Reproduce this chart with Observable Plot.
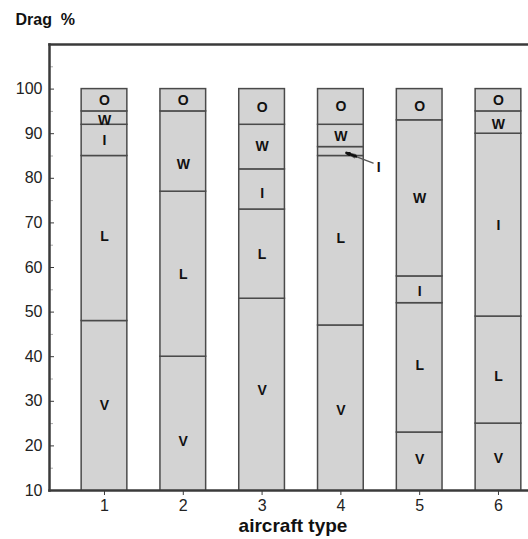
<!DOCTYPE html>
<html><head><meta charset="utf-8">
<script src="https://cdn.jsdelivr.net/npm/d3@7"></script>
<script src="https://cdn.jsdelivr.net/npm/@observablehq/plot@0.6"></script>
<style>body{margin:0;background:#fff;} svg{display:block}</style>
</head><body><div id="chart"></div>
<script>
// Aircraft types (x categories)
const types = [1, 2, 3, 4, 5, 6];
const components = ["V", "L", "I", "W", "O"];
// Segment sizes (% of drag), stacked bottom to top
const V = [48, 40, 53, 47, 23, 25];
const L = [37, 37, 20, 38, 29, 24];
const I = [7, 0, 9, 2, 6, 41];
const W = [3, 18, 10, 5, 35, 5];
const O = [5, 5, 8, 8, 7, 5];
// Label positions (value units) for each segment letter; null = not labelled inside
const labV = [29, 21, 32.5, 28, 17, 17.2];
const labL = [67, 58.5, 63, 66.6, 38, 35.5];
const labI = [88.5, null, 76.6, null, 54.6, 69.5];
const labW = [93, 83, 87.1, 89.3, 75.4, 92];
const labO = [97.5, 97.5, 95.8, 96.2, 96.2, 97.5];
// Callout for the thin I segment of aircraft 4
const calloutLabel = ["I"];
const calloutPos = [[4.48, 82.4]];
const calloutArrow = [[4.41, 83.4, 4.07, 85.7]];
// Axis ticks
const yTicks = [10, 20, 30, 40, 50, 60, 70, 80, 90, 100];
const yMinor = [15, 25, 35, 45, 55, 65, 75, 85, 95, 105];
const xTicks = [1, 2, 3, 4, 5, 6];
const titleText = "Drag\u00a0\u00a0%";
const xLabel = "aircraft type";

const sizes = {V, L, I, W, O};
const labs = {V: labV, L: labL, I: labI, W: labW, O: labO};
const rows = [];
types.forEach((t, i) => {
  let base = 0;
  components.forEach(c => {
    const v = sizes[c][i];
    if (v > 0) rows.push({type: t, comp: c, y1: base, y2: base + v, labelY: labs[c][i]});
    base += v;
  });
});
const half = 0.29;
const dark = "#3a3a3a";

const chart = Plot.plot({
  width: 528, height: 539,
  marginTop: 44, marginLeft: 49, marginRight: 0, marginBottom: 49,
  style: {fontFamily: "'Liberation Sans', Arial, Helvetica, sans-serif", background: "#fff", color: "#222"},
  x: {type: "linear", domain: [0.302, 6.381]},
  y: {domain: [10, 110]},
  marks: [
    Plot.rect(rows, {x1: d => d.type - half, x2: d => d.type + half, y1: "y1", y2: "y2",
      fill: "#d3d3d3", stroke: "#4a4a4a", strokeWidth: 1.5, clip: true}),
    Plot.text(rows.filter(d => d.labelY != null), {x: "type", y: "labelY", text: "comp",
      fontWeight: "bold", fontSize: 14, fill: "#111"}),
    Plot.arrow(calloutArrow, {x1: d => d[0], y1: d => d[1], x2: d => d[2], y2: d => d[3],
      stroke: "#555", strokeWidth: 1.2, headLength: 12, headAngle: 20}),
    Plot.arrow(calloutArrow, {x1: d => d[2] + 0.12, y1: d => d[3] - 0.8, x2: d => d[2], y2: d => d[3],
      stroke: "#111", strokeWidth: 2.5, headLength: 8, headAngle: 25}),
    Plot.text(calloutLabel, {x: (d, i) => calloutPos[i][0], y: (d, i) => calloutPos[i][1], text: d => d,
      fontWeight: "bold", fontSize: 14, fill: "#111"}),
    Plot.axisY({ticks: yTicks, tickSize: -5, tickPadding: 12, fontSize: 16, tickFormat: d => d, label: null, stroke: dark}),
    Plot.axisY({ticks: yMinor, tickSize: -4, text: null, label: null, stroke: "#aaa"}),
    Plot.axisX({ticks: xTicks, tickSize: 5, tickPadding: 4, fontSize: 16, tickFormat: d => d, label: null, stroke: dark}),
    Plot.frame({anchor: "top", stroke: dark, strokeWidth: 2.5}),
    Plot.frame({anchor: "left", stroke: dark, strokeWidth: 2.5}),
    Plot.frame({anchor: "bottom", stroke: dark, strokeWidth: 2.5}),
    Plot.text([xLabel], {frameAnchor: "bottom", dx: 4, dy: 41, lineAnchor: "bottom",
      fontSize: 19, fontWeight: "bold", fill: "#111"}),
    Plot.text([titleText], {frameAnchor: "top-left", dx: -34, dy: -20, lineAnchor: "bottom", textAnchor: "start",
      fontSize: 16, fontWeight: "bold", fill: "#111"})
  ]
});
document.getElementById("chart").appendChild(chart);
</script>
</body></html>
